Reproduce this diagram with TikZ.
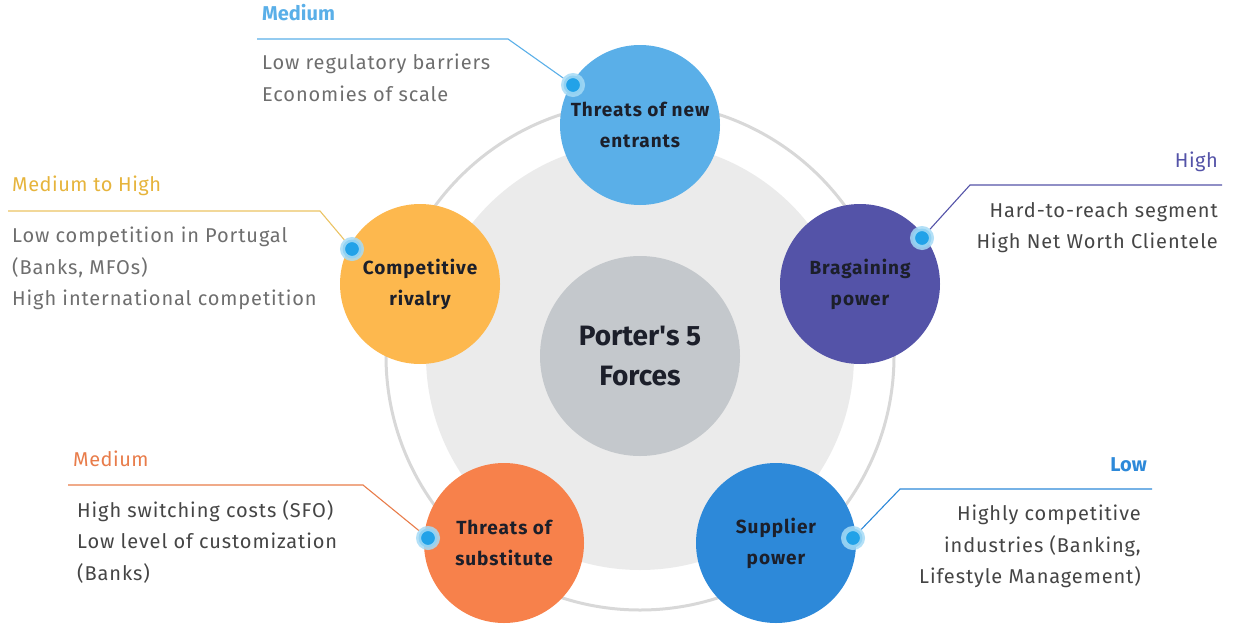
\documentclass[tikz,border=0pt]{standalone}
\usepackage{fontspec}
\setmainfont{Fira Sans}

\definecolor{ink}{HTML}{1C1F2A}
\definecolor{ringgray}{HTML}{D8D8D8}
\definecolor{haze}{HTML}{EBEBEB}
\definecolor{coregray}{HTML}{C4C8CC}
\definecolor{entrblue}{HTML}{5AAFE8}
\definecolor{bargviolet}{HTML}{5453A8}
\definecolor{suppblue}{HTML}{2D89D9}
\definecolor{subsorange}{HTML}{F7814B}
\definecolor{rivagold}{HTML}{FDB84E}
\definecolor{rivatext}{HTML}{E6B43C}
\definecolor{substext}{HTML}{E87C4A}
\definecolor{glow}{HTML}{A6DBF6}
\definecolor{dotblue}{HTML}{22A2E8}
\definecolor{lightnote}{HTML}{6E6E6E}
\definecolor{darknote}{HTML}{454545}

\begin{document}
\begin{tikzpicture}[x=1pt,y=-1pt,
  force/.style={circle,minimum size=160pt,inner sep=0pt,align=center,text=ink,
    font=\fontsize{19}{31}\selectfont\bfseries\addfontfeature{LetterSpace=5}},
  level/.style={inner sep=0pt,font=\fontsize{20}{24}\selectfont\addfontfeature{LetterSpace=2.5}},
  note/.style={inner sep=0pt,font=\fontsize{20}{31.5}\selectfont\addfontfeature{LetterSpace=4.5}},
  lead/.style={line width=1.1pt},
  knob/.style={circle,inner sep=0pt,minimum size=19pt,fill=dotblue,
    draw=glow,draw opacity=0.85,line width=5pt}]
\useasboundingbox (0,0) rectangle (1250,624);

% rings and the middle
\coordinate (mid) at (640,356);
\draw[ringgray,line width=3pt] (mid) circle[radius=254pt];
\fill[haze] (mid) circle[radius=214pt];
\node[circle,minimum size=200pt,fill=coregray,align=center,text=ink,
  font=\fontsize{28}{40}\selectfont\bfseries] (core) at (mid)
  {Porter\textquotesingle s 5\\Forces};

% the five forces
\node[force,fill=entrblue] (entr) at (640,125) {Threats of new\\entrants};
\node[force,fill=bargviolet] (barg) at (860,284) {Bragaining\\power};
\node[force,fill=suppblue] (supp) at (776,543) {Supplier\\power};
\node[force,fill=subsorange] (subs) at (504,543) {Threats of\\substitute};
\node[force,fill=rivagold] (riva) at (420,284) {Competitive\\rivalry};

% knobs on the rims
\node[knob] (entr-k) at (573,85) {};
\node[knob] (barg-k) at (922,238) {};
\node[knob] (supp-k) at (853,538) {};
\node[knob] (subs-k) at (428,538) {};
\node[knob] (riva-k) at (352,249) {};

% leads
\coordinate (entr-a) at (257,39);  \coordinate (entr-b) at (508,39);
\coordinate (barg-a) at (1222,185); \coordinate (barg-b) at (970,185);
\coordinate (supp-a) at (1152,489); \coordinate (supp-b) at (900,489);
\coordinate (subs-a) at (68,485);  \coordinate (subs-b) at (363,485);
\coordinate (riva-a) at (8,211);   \coordinate (riva-b) at (320,211);
\draw[lead,entrblue] (entr-k) -- (entr-b) -- (entr-a);
\draw[lead,bargviolet] (barg-k) -- (barg-b) -- (barg-a);
\draw[lead,suppblue] (supp-k) -- (supp-b) -- (supp-a);
\draw[lead,substext] (subs-k) -- (subs-b) -- (subs-a);
\draw[lead,rivatext!80] (riva-k) -- (riva-b) -- (riva-a);

% levels
\node[level,anchor=base west,text=entrblue,font=\fontsize{20}{24}\selectfont\bfseries]
  (entr-lvl) at (262,20) {Medium};
\node[level,anchor=base east,text=bargviolet] (barg-lvl) at (1218,167) {High};
\node[level,anchor=base east,text=suppblue,font=\fontsize{20}{24}\selectfont\bfseries]
  (supp-lvl) at (1147,471) {Low};
\node[level,anchor=base west,text=substext] (subs-lvl) at (73,466) {Medium};
\node[level,anchor=base west,text=rivatext] (riva-lvl) at (12,191) {Medium to High};

% notes
\node[note,anchor=north west,align=left,text=lightnote] (entr-txt) at (262,54)
  {Low regulatory barriers\\Economies of scale};
\node[note,anchor=north east,align=right,text=darknote] (barg-txt) at (1218,202)
  {Hard-to-reach segment\\High Net Worth Clientele};
\node[note,anchor=north east,align=right,text=darknote] (supp-txt) at (1141,505)
  {Highly competitive\\industries (Banking,\\Lifestyle Management)};
\node[note,anchor=north west,align=left,text=darknote] (subs-txt) at (77,500)
  {High switching costs (SFO)\\Low level of customization\\(Banks)};
\node[note,anchor=north west,align=left,text=lightnote] (riva-txt) at (12,227)
  {Low competition in Portugal\\(Banks, MFOs)\\High international competition};
\end{tikzpicture}
\end{document}
